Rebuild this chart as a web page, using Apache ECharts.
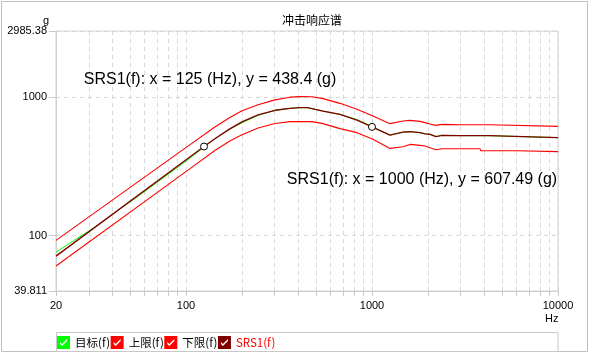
<!DOCTYPE html>
<html>
<head>
<meta charset="utf-8">
<script src="https://cdn.jsdelivr.net/npm/echarts@6/dist/echarts.min.js"></script>
<style>
html, body { margin: 0; padding: 0; background: #fff; }
#srs { width: 589px; height: 354px; }
</style>
</head>
<body>
<div id="srs"></div>
<script>
// values (Hz, g)
var targetFreq = [20, 32, 45, 55, 100, 118, 125, 143, 172, 200, 244, 301, 362, 410, 450, 545, 673, 830, 950, 1000, 1249, 1467, 1600, 1811, 1927, 2050, 2208, 2378, 3047, 4256, 4300, 10000];
var targetVals = [76, 114, 158.5, 191, 344, 408, 436, 499, 586, 650, 735, 800, 826, 836, 836, 790, 748, 686, 632, 607.49, 530, 557, 561, 552, 541, 537, 517, 528, 525, 525, 508, 508];

var upperFreq = [20, 103.8, 143, 172, 200, 244, 301, 362, 410, 476, 545, 673, 830, 1012, 1249, 1467, 1600, 1811, 1927, 2050, 2208, 2378, 3047, 4256, 4300, 10000];
var upperVals = [92.3, 447, 606, 709, 795, 878, 951, 995, 1004, 1002, 971, 898, 813, 727, 641, 669, 677, 666, 652, 637, 623, 633, 630, 630, 613, 613];

var lowerFreq = [20, 103.8, 143, 172, 200, 244, 301, 362, 410, 476, 545, 673, 830, 1012, 1249, 1467, 1600, 1811, 1927, 2050, 2208, 2378, 3807, 3850, 6020, 6080, 10000];
var lowerVals = [60.3, 300, 410, 481, 533, 596, 643, 663, 665, 663, 641, 590, 552, 494, 425, 437, 454, 447, 442, 430, 416, 423, 423, 409, 409, 403, 403];

var srsFreq = [20, 125, 143, 172, 200, 244, 301, 362, 410, 450, 545, 673, 830, 1000, 1249, 1467, 1600, 1811, 1927, 2050, 2208, 2378, 3047, 4256, 4300, 10000];
var srsVals = [71, 438.4, 499, 588, 659, 742, 800, 826, 836, 836, 790, 748, 680, 607.49, 530, 557, 561, 552, 541, 537, 517, 528, 525, 525, 508, 508];

var cursorFreq = [125, 1000];
var cursorVals = [438.4, 607.49];

var xTickHz = [20, 30, 40, 50, 60, 70, 80, 90, 100, 200, 300, 400, 500, 600, 700, 800, 900,
               1000, 2000, 3000, 4000, 5000, 6000, 7000, 8000, 9000, 10000];
var xLabelHz = [20, 100, 1000, 10000];
var yLabels = ['39.811', '100', '1000', '2985.38'];

var names = ['目标(f)', '上限(f)', '下限(f)', 'SRS1(f)'];
var colors = ['#00ff00', '#ff0000', '#ff0000', '#800000'];
var widths = [1, 1.1, 1.1, 1.4];

var lg = Math.log10;
function pts(freqs, vals) {
	return freqs.map(function (f, i) { return [lg(f), lg(vals[i])]; });
}

var yLabelVals = yLabels.map(function (s) { return lg(parseFloat(s)); });
var checkIcon = 'path://M0,0H13V13H0Z M3,6L3,8L5,10L10,5L10,3L5,8Z';

function lineSeries(i, data, extra) {
	var s = {
		name: names[i],
		type: 'line',
		data: data,
		showSymbol: false,
		color: colors[i],
		lineStyle: { width: widths[i], color: colors[i] },
		animation: false,
		silent: true
	};
	return Object.assign(s, extra || {});
}

var cursorText = cursorFreq.map(function (f, i) {
	return 'SRS1(f): x = ' + f + ' (Hz), y = ' + cursorVals[i] + ' (g)';
});
var cursorOffsets = [[6, -67], [50, 53]];

var chart = echarts.init(document.getElementById('srs'));
var option = {
	animation: false,
	title: {
		text: '冲击响应谱',
		left: 277,
		top: 9,
		textStyle: { fontSize: 12, fontWeight: 'normal', color: '#000', fontFamily: 'Noto Sans CJK SC' }
	},
	grid: {
		left: 56, right: 31, top: 31, bottom: 63,
		show: true, borderColor: '#d0d0d0', borderWidth: 1
	},
	legend: {
		left: 57, top: 336, padding: 0,
		itemWidth: 13, itemHeight: 13, itemGap: 0.5,
		itemStyle: { borderWidth: 0 },
		textStyle: { fontSize: 11.5, color: '#000', fontFamily: 'Noto Sans CJK SC' },
		selectedMode: false,
		data: names.map(function (n, i) {
			var d = { name: n, icon: checkIcon };
			if (i === 3) d.textStyle = { color: '#ff0000' };
			return d;
		})
	},
	xAxis: {
		type: 'value',
		min: lg(20), max: 4,
		axisLine: { lineStyle: { color: '#d0d0d0' } },
		axisTick: { customValues: xTickHz.map(lg), length: 5, lineStyle: { color: '#c8c8c8' } },
		axisLabel: {
			customValues: xLabelHz.map(lg),
			formatter: function (v) { return String(Math.round(Math.pow(10, v))); },
			margin: 9, fontSize: 11, color: '#000', fontFamily: 'Liberation Sans'
		},
		splitLine: { show: true, lineStyle: { color: '#d8d8d8', type: [4, 4] } }
	},
	yAxis: {
		type: 'value',
		min: lg(39.811), max: lg(2985.38),
		axisLine: { show: true, lineStyle: { color: '#d0d0d0' } },
		axisTick: { show: true, customValues: yLabelVals, length: 7, lineStyle: { color: '#c8c8c8' } },
		axisLabel: {
			customValues: yLabelVals,
			formatter: function (v) {
				var best = 0;
				yLabelVals.forEach(function (y, i) { if (Math.abs(y - v) < Math.abs(yLabelVals[best] - v)) best = i; });
				return yLabels[best];
			},
			margin: 9, fontSize: 11, color: '#000', fontFamily: 'Liberation Sans'
		},
		splitLine: { show: true, lineStyle: { color: '#d8d8d8', type: [4, 4] } }
	},
	graphic: [
		{ type: 'rect', silent: true, z: -1, shape: { x: 1.5, y: 1.5, width: 586, height: 350 },
		  style: { fill: null, stroke: '#c0c0c0', lineWidth: 1 } },
		{ type: 'rect', silent: true, z: -1, shape: { x: 56.5, y: 332.5, width: 501.5, height: 19 },
		  style: { fill: null, stroke: '#c8c8c8', lineWidth: 1 } },
		{ type: 'text', left: 43, top: 15, silent: true,
		  style: { text: 'g', fill: '#000', font: '11px "Liberation Sans"' } },
		{ type: 'text', left: 545, top: 313, silent: true,
		  style: { text: 'Hz', fill: '#000', font: '11px "Liberation Sans"' } }
	],
	series: [
		lineSeries(0, pts(targetFreq, targetVals)),
		lineSeries(1, pts(upperFreq, upperVals)),
		lineSeries(2, pts(lowerFreq, lowerVals)),
		lineSeries(3, pts(srsFreq, srsVals), {
			markPoint: {
				symbol: 'circle',
				symbolSize: 7,
				silent: true,
				itemStyle: { color: '#fff', borderColor: '#000', borderWidth: 1 },
				label: { show: true, position: 'inside', color: '#000', fontSize: 16, fontFamily: 'Liberation Sans' },
				data: cursorFreq.map(function (f, i) {
					return {
						coord: [lg(f), lg(cursorVals[i])],
						label: { formatter: cursorText[i], offset: cursorOffsets[i] }
					};
				})
			}
		})
	]
};
chart.setOption(option);
window.addEventListener('resize', function () {
	chart.resize();
});
</script>
</body>
</html>
